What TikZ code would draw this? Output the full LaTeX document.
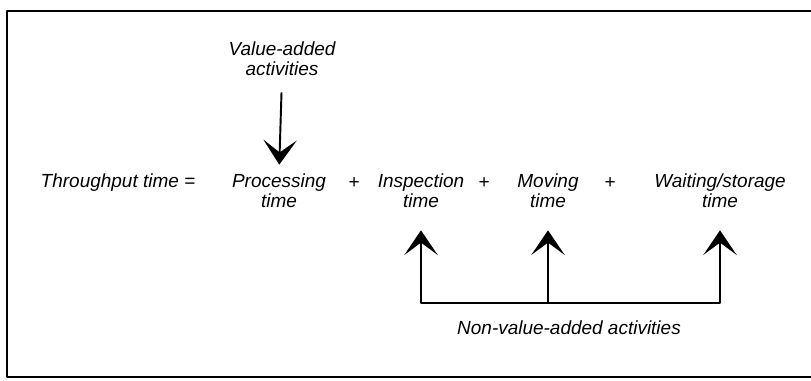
\documentclass[tikz,border=0pt]{standalone}
\usepackage{fontspec}
\setmainfont{Liberation Sans}
\usetikzlibrary{arrows.meta}
\begin{document}
\begin{tikzpicture}[x=0.02cm, y=-0.02cm, font=\itshape\fontsize{10.8}{11.4}\selectfont, line join=round,
		>={Stealth[length=14pt,width=19pt,inset=7pt]},
		lbl/.style={align=center, inner sep=0pt},
		arr/.style={->, line width=1.1pt}]
	\useasboundingbox (0,0) rectangle (811,380);
	% frame, open on the right
	\draw[line width=1.2pt] (811,11) -- (7,11) -- (7,377) -- (811,377);
	\node[lbl] (va) at (282,59) {Value-added\\activities};
	\node[lbl] (tt) at (118,183) {Throughput time =};
	\node[lbl] (proc) at (279,191) {Processing\\time};
	\node[lbl] (p1) at (354,183) {+};
	\node[lbl] (insp) at (421,191) {Inspection\\time};
	\node[lbl] (p2) at (484,183) {+};
	\node[lbl] (mov) at (548,191) {Moving\\time};
	\node[lbl] (p3) at (610,183) {+};
	\node[lbl] (wait) at (720,191) {Waiting/storage\\time};
	\node[lbl] (nva) at (569,328) {Non-value-added activities};
	\coordinate (bar) at (569,303);
	% value-added arrow
	\draw[arr, shorten <=0.32cm, shorten >=0.18cm] (va.south) -- (proc.north);
	% non-value-added arrows
	\draw[<->, line width=1.5pt, shorten <=0.44cm, shorten >=0.44cm]
		(insp.south) -- (insp.south |- bar) -- (wait.south |- bar) -- (wait.south);
	\draw[arr, shorten >=0.44cm] (mov.south |- bar) -- (mov.south);
\end{tikzpicture}
\end{document}
